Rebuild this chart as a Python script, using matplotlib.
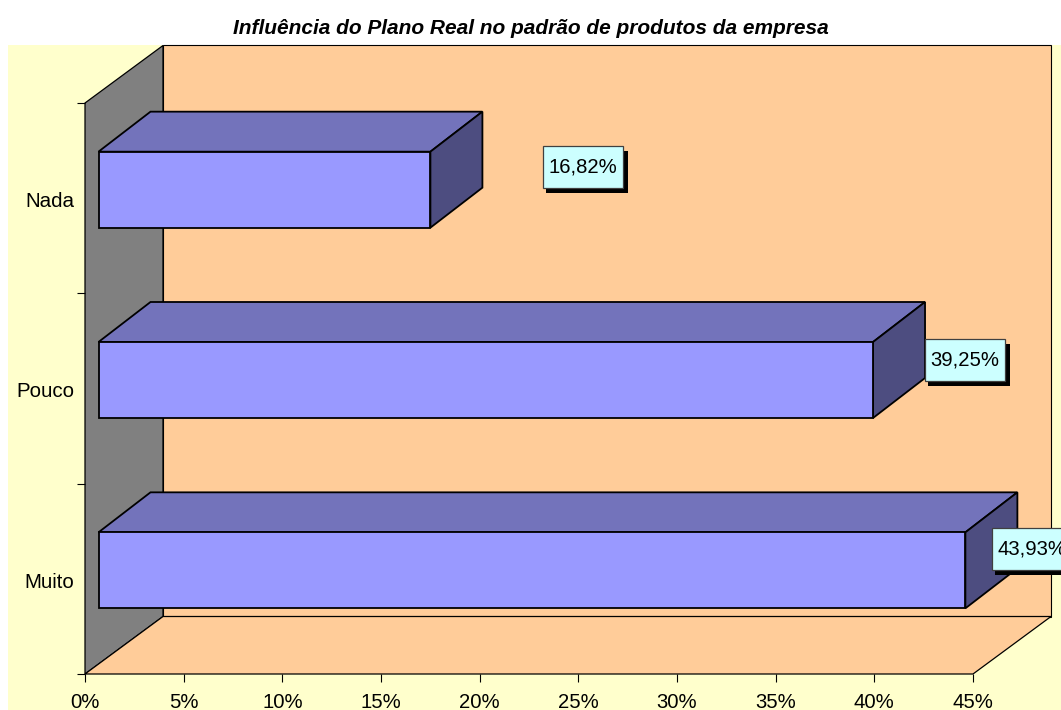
import matplotlib
matplotlib.use('Agg')
import matplotlib.pyplot as plt
from matplotlib.patches import Polygon, Rectangle
from matplotlib.transforms import ScaledTranslation

plt.rcParams['font.family'] = ['Liberation Sans', 'DejaVu Sans']

# dados do grafico
categorias = ['Muito', 'Pouco', 'Nada']
valores = [43.93, 39.25, 16.82]
rotulos = ['43,93%', '39,25%', '16,82%']
ticks_x = [0, 5, 10, 15, 20, 25, 30, 35, 40, 45]
titulo = 'Influência do Plano Real no padrão de produtos da empresa'

# deslocamento manual das caixas de rotulo (pixels, a partir do fim da barra)
caixa_dx = [26.5, 51.5, 112.5]
caixa_dy = [29.5, 28, 31]

W, H = 1061, 710
fig = plt.figure(figsize=(W / 100, H / 100), dpi=100, facecolor='white')

# fundo amarelo da area do grafico
fig.add_artist(Rectangle((8 / W, 0), (W - 8) / W, (H - 45) / H, transform=fig.transFigure,
                         facecolor='#FFFFCC', edgecolor='none', zorder=-1))

# plano frontal dos eixos: x 85..973 px, y 103..674 px
ax = fig.add_axes([85 / W, 1 - 674 / H, 888 / W, 571 / H])
ax.set_xlim(0, 45)
ax.set_ylim(0, 3)
ax.patch.set_visible(False)
for s in ax.spines.values():
    s.set_visible(False)

# unidades de dados por pixel
px_x = 45 / 888
px_y = 3 / 571

# profundidade da "caixa" 3D
prof_x = 78 * px_x
prof_y = 57.5 * px_y
# barra: afastamento do plano frontal e profundidade
gap_x = 13.5 * px_x
gap_y = 8.5 * px_y
barra_x = 52 * px_x
barra_y = 40 * px_y
altura = 76 * px_y


def poligono(pts, cor, lw=1.0, z=1):
    ax.add_patch(Polygon(pts, closed=True, facecolor=cor, edgecolor='black', linewidth=lw,
                         joinstyle='miter', clip_on=False, zorder=z))


# paredes e chao
poligono([(prof_x, prof_y), (45 + prof_x, prof_y), (45 + prof_x, 3 + prof_y), (prof_x, 3 + prof_y)], '#FFCC99', 0.8)
poligono([(0, 0), (prof_x, prof_y), (prof_x, 3 + prof_y), (0, 3)], '#808080', 0.9)
poligono([(0, 0), (45, 0), (45 + prof_x, prof_y), (prof_x, prof_y)], '#FFCC99', 0.9)

# barras
for i, v in enumerate(valores):
    y0 = i + 0.5 + gap_y - altura / 2
    y1 = y0 + altura
    x0 = gap_x
    x1 = gap_x + v
    poligono([(x0, y1), (x1, y1), (x1 + barra_x, y1 + barra_y), (x0 + barra_x, y1 + barra_y)], '#7373BB', 1.3, 3)
    poligono([(x1, y0), (x1 + barra_x, y0 + barra_y), (x1 + barra_x, y1 + barra_y), (x1, y1)], '#4D4D80', 1.3, 3)
    poligono([(x0, y0), (x1, y0), (x1, y1), (x0, y1)], '#9999FF', 1.3, 4)

    # caixa do rotulo com sombra preta
    cx = x1 + caixa_dx[i] * px_x
    cy = i + 0.5 + caixa_dy[i] * px_y
    larg = 80 * px_x
    alt = 42 * px_y
    ax.add_patch(Rectangle((cx + 3 * px_x, cy - alt / 2 - 5 * px_y), larg + 2 * px_x, alt, facecolor='black',
                           edgecolor='none', clip_on=False, zorder=5))
    ax.add_patch(Rectangle((cx, cy - alt / 2), larg, alt, facecolor='#CCFFFF', edgecolor='#404040',
                           linewidth=0.9, clip_on=False, zorder=6))
    ax.text(cx + 6 * px_x, cy + 2 * px_y, rotulos[i], fontsize=14.6, ha='left', va='center_baseline',
            clip_on=False, zorder=7)

# eixos
ax.set_xticks(ticks_x)
ax.set_xticklabels([f'{t}%' for t in ticks_x], fontsize=14.6)
ax.set_yticks([0, 1, 2, 3])
ax.set_yticklabels([])
ax.set_yticks([0.5, 1.5, 2.5], minor=True)
ax.set_yticklabels(categorias, minor=True, fontsize=14.8)
ax.tick_params(axis='x', length=5.7, width=0.8, pad=8)
ax.tick_params(axis='y', which='major', length=5.7, width=0.8)
ax.tick_params(axis='y', which='minor', length=0, pad=8)

# rotulos de categoria ficam um pouco abaixo do centro da faixa
desce = ScaledTranslation(0, -1.5 / 100, fig.dpi_scale_trans)
for lab in ax.get_yticklabels(minor=True):
    lab.set_transform(lab.get_transform() + desce)

fig.text(531 / W, 1 - 28.5 / H, titulo, fontsize=15, fontweight='bold', fontstyle='italic',
         ha='center', va='center')

fig.savefig('out.png', dpi=100)
